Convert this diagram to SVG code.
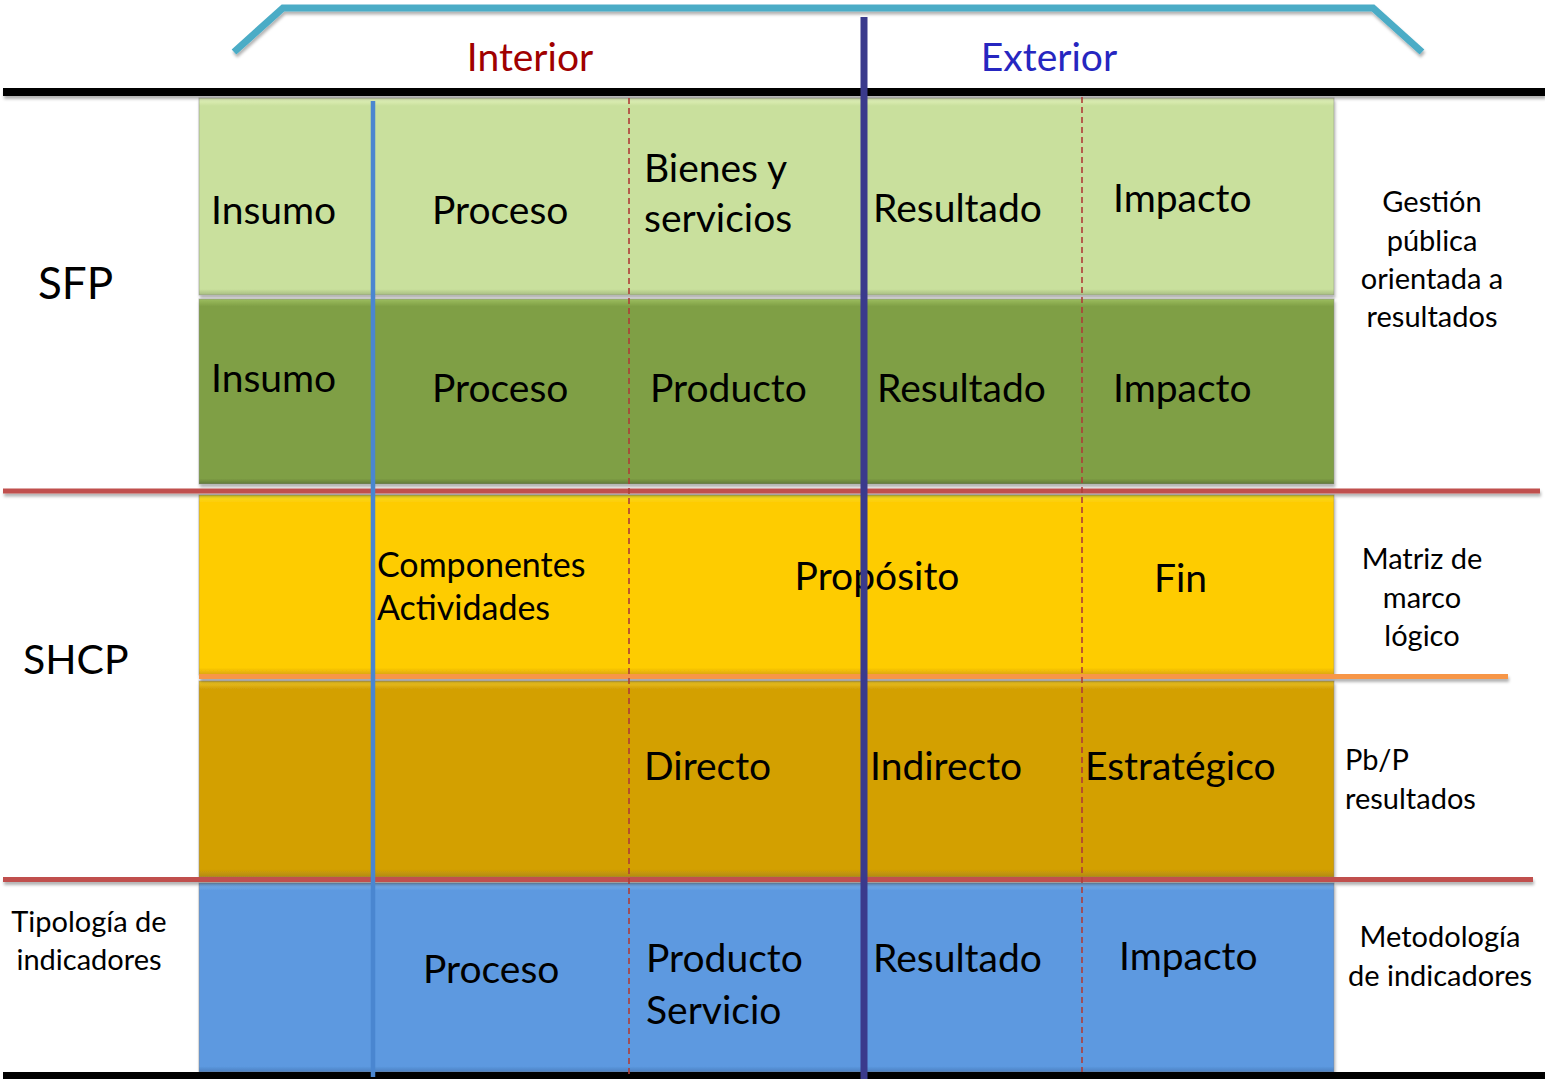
<svg xmlns="http://www.w3.org/2000/svg" width="1545" height="1079" viewBox="0 0 1545 1079">
<style>
text{font-family:Lato,"Open Sans","Liberation Sans",sans-serif;fill:#000}
.big{font-size:39px}
.mid{font-size:34px}
.side{font-size:29px}
.box{stroke:#8a8a8a;stroke-width:1;stroke-opacity:0.5}
.dash{stroke:#B03C38;stroke-width:1.6;stroke-dasharray:6 4;fill:none}
.hline{stroke-width:5;fill:none}
</style>
<defs>
<filter id="sh" x="-5%" y="-5%" width="110%" height="120%">
<feDropShadow dx="1" dy="3" stdDeviation="1.5" flood-color="#000" flood-opacity="0.3"/>
</filter>
<filter id="shl" filterUnits="userSpaceOnUse" x="0" y="0" width="1545" height="1079">
<feDropShadow dx="1" dy="3" stdDeviation="1.5" flood-color="#000" flood-opacity="0.3"/>
</filter>
<linearGradient id="g1" x1="0" y1="0" x2="0" y2="1">
<stop offset="0" stop-color="#E6F5BF"/><stop offset="0.04" stop-color="#C9E09D"/><stop offset="0.97" stop-color="#C9E09D"/><stop offset="1" stop-color="#A6BC80"/>
</linearGradient>
<linearGradient id="g2" x1="0" y1="0" x2="0" y2="1">
<stop offset="0" stop-color="#9DBE60"/><stop offset="0.04" stop-color="#7F9F45"/><stop offset="0.97" stop-color="#7F9F45"/><stop offset="1" stop-color="#61793A"/>
</linearGradient>
<linearGradient id="g3" x1="0" y1="0" x2="0" y2="1">
<stop offset="0" stop-color="#F5E430"/><stop offset="0.04" stop-color="#FECC05"/><stop offset="0.96" stop-color="#FECC05"/><stop offset="1" stop-color="#D9A40A"/>
</linearGradient>
<linearGradient id="g4" x1="0" y1="0" x2="0" y2="1">
<stop offset="0" stop-color="#F0C82A"/><stop offset="0.04" stop-color="#D3A005"/><stop offset="0.96" stop-color="#D3A005"/><stop offset="1" stop-color="#B38A0A"/>
</linearGradient>
<linearGradient id="g5" x1="0" y1="0" x2="0" y2="1">
<stop offset="0" stop-color="#7DB2EC"/><stop offset="0.04" stop-color="#5D99E0"/><stop offset="0.97" stop-color="#5D99E0"/><stop offset="1" stop-color="#4A7FC0"/>
</linearGradient>
</defs>

<g id="bracket" filter="url(#shl)">
<polyline points="234,52 283,8 1373,8 1422,52" fill="none" stroke="#4BACC6" stroke-width="7"/>
</g>

<g id="headers">
<text x="530" y="71" class="big" text-anchor="middle" style="fill:#A00000">Interior</text>
<text x="1049" y="71" class="big" text-anchor="middle" style="fill:#2626C0">Exterior</text>
</g>

<g id="row-sfp1">
<rect x="199" y="98" width="1135" height="197" fill="url(#g1)" class="box" filter="url(#sh)"/>
<text x="211" y="224" class="big">Insumo</text>
<text x="432" y="224" class="big">Proceso</text>
<text x="644" y="182" class="big">Bienes y</text>
<text x="644" y="232" class="big">servicios</text>
<text x="873" y="222" class="big">Resultado</text>
<text x="1113" y="212" class="big">Impacto</text>
</g>

<g id="row-sfp2">
<rect x="199" y="299" width="1135" height="185" fill="url(#g2)" class="box" filter="url(#sh)"/>
<text x="211" y="392" class="big">Insumo</text>
<text x="432" y="402" class="big">Proceso</text>
<text x="650" y="402" class="big">Producto</text>
<text x="877" y="402" class="big">Resultado</text>
<text x="1113" y="402" class="big">Impacto</text>
</g>

<g id="row-mml">
<rect x="199" y="495" width="1135" height="180" fill="url(#g3)" class="box" filter="url(#sh)"/>
<text x="377" y="577" class="mid">Componentes</text>
<text x="377" y="620" class="mid">Actividades</text>
<text x="877" y="590" class="big" text-anchor="middle">Propósito</text>
<text x="1154" y="592" class="big">Fin</text>
</g>

<g id="row-pbp">
<rect x="199" y="681" width="1135" height="196" fill="url(#g4)" class="box" filter="url(#sh)"/>
<text x="644" y="780" class="big">Directo</text>
<text x="870" y="780" class="big">Indirecto</text>
<text x="1085" y="780" class="big">Estratégico</text>
</g>

<g id="row-ind">
<rect x="199" y="883" width="1135" height="189" fill="url(#g5)" class="box" filter="url(#sh)"/>
<text x="423" y="983" class="big">Proceso</text>
<text x="646" y="972" class="big">Producto</text>
<text x="646" y="1024" class="big">Servicio</text>
<text x="873" y="972" class="big">Resultado</text>
<text x="1119" y="970" class="big">Impacto</text>
</g>

<g id="left-labels">
<text x="38" y="299" style="font-size:44px">SFP</text>
<text x="23" y="674" style="font-size:41px">SHCP</text>
<text x="89" y="932" class="side" text-anchor="middle">Tipología de</text>
<text x="89" y="970" class="side" text-anchor="middle">indicadores</text>
</g>

<g id="right-labels">
<text x="1432" y="212" class="side" text-anchor="middle">Gestión</text>
<text x="1432" y="251" class="side" text-anchor="middle">pública</text>
<text x="1432" y="289" class="side" text-anchor="middle">orientada a</text>
<text x="1432" y="327" class="side" text-anchor="middle">resultados</text>
<text x="1422" y="569" class="side" text-anchor="middle">Matriz de</text>
<text x="1422" y="608" class="side" text-anchor="middle">marco</text>
<text x="1422" y="646" class="side" text-anchor="middle">lógico</text>
<text x="1345" y="770" class="side">Pb/P</text>
<text x="1345" y="809" class="side">resultados</text>
<text x="1440" y="947" class="side" text-anchor="middle">Metodología</text>
<text x="1440" y="986" class="side" text-anchor="middle">de indicadores</text>
</g>

<g id="connectors">
<line x1="3" y1="92" x2="1545" y2="92" stroke="#000" stroke-width="8" filter="url(#shl)"/>
<line x1="3" y1="1075.5" x2="1545" y2="1075.5" stroke="#000" stroke-width="7"/>
<line x1="3" y1="491" x2="1540" y2="491" class="hline" stroke="#C0504D" filter="url(#shl)"/>
<line x1="3" y1="879.5" x2="1533" y2="879.5" class="hline" stroke="#C0504D" filter="url(#shl)"/>
<line x1="199" y1="676.5" x2="1508" y2="676.5" class="hline" stroke="#F79646" filter="url(#shl)"/>
<line x1="629" y1="98" x2="629" y2="1076" class="dash"/>
<line x1="1082" y1="97" x2="1082" y2="1072" class="dash"/>
<line x1="373" y1="101" x2="373" y2="1077" stroke="#4A86D0" stroke-width="4.5"/>
<line x1="864" y1="17" x2="864" y2="1079" stroke="#3A3A8C" stroke-width="7"/>
</g>
</svg>
